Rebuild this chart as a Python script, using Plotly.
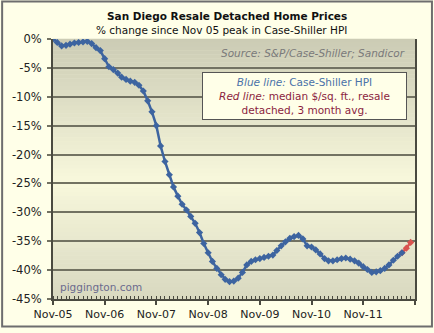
import plotly.graph_objects as go
import pandas as pd

# ---- data ----
months = pd.date_range("2005-11-01", periods=84, freq="MS")
cs_hpi = [0.0, -0.6, -1.2, -1.1, -0.9, -0.7, -0.6, -0.5, -0.4, -0.8, -1.5, -2.0,
          -3.4, -4.8, -5.3, -5.9, -6.6, -7.0, -7.3, -7.5, -8.0, -9.0, -10.7, -12.6,
          -15.0, -18.5, -21.2, -23.5, -25.6, -27.2, -28.6, -29.6, -30.7, -31.9, -33.5, -35.4,
          -37.0, -38.5, -39.7, -40.8, -41.6, -42.0, -41.9, -41.4, -40.4, -39.1, -38.5, -38.2,
          -38.0, -37.8, -37.6, -37.4, -36.6, -35.8, -35.1, -34.5, -34.2, -34.0, -34.6, -35.8,
          -36.0, -36.5, -37.2, -38.0, -38.4, -38.4, -38.2, -38.0, -37.9, -38.1, -38.4, -38.8,
          -39.4, -39.9, -40.4, -40.3, -40.1, -39.7, -39.1, -38.3, -37.6, -37.0]
red_months = months[81:84]
red_vals = [-37.0, -36.2, -35.2]

y_ticks = [0, -5, -10, -15, -20, -25, -30, -35, -40, -45]
y_ticktext = ["0%", "-5%", "-10%", "-15%", "-20%", "-25%", "-30%", "-35%", "-40%", "-45%"]

# ---- layout geometry (pixels) ----
W, H = 434, 333
L, R, T, B = 52, 415, 39, 303
PW, PH = R - L, B - T

def px(x):
    return (x - L) / PW

def py(y):
    return (B - y) / PH

FONT = "DejaVu Sans"
BLUE = "#3D64A0"

fig = go.Figure()
fig.add_trace(go.Scatter(x=red_months, y=red_vals, mode="lines+markers",
                         line=dict(color="#D9534F", width=2.5),
                         marker=dict(symbol="diamond", size=5.5, color="#D9534F"),
                         showlegend=False))
fig.add_trace(go.Scatter(x=months[:82], y=cs_hpi, mode="lines+markers",
                         line=dict(color=BLUE, width=2.5),
                         marker=dict(symbol="diamond", size=5.5, color=BLUE),
                         showlegend=False))

# gradient background bands
def lerp(c1, c2, t):
    return tuple(round(a + (b - a) * t) for a, b in zip(c1, c2))

top_c = (0xCB, 0xCB, 0xB4)
mid_c = (0xF8, 0xF8, 0xDC)
bot_c = (0xD8, 0xD8, 0xC0)
N = 66
shapes = []
for i in range(N):
    f = (i + 0.5) / N  # 0 top -> 1 bottom
    if f < 0.55:
        c = lerp(top_c, mid_c, f / 0.55)
    else:
        c = lerp(mid_c, bot_c, (f - 0.55) / 0.45)
    shapes.append(dict(type="rect", xref="paper", yref="paper",
                       x0=0, x1=1, y0=1 - (i + 1) / N, y1=1 - i / N + 0.001,
                       fillcolor="rgb(%d,%d,%d)" % c, line=dict(width=0),
                       layer="below"))
# outer frame
shapes.append(dict(type="rect", xref="paper", yref="paper",
                   x0=px(1), x1=px(432), y0=py(331), y1=py(1),
                   line=dict(color="#6E6E6E", width=2), layer="above"))

annotations = [
    dict(text="<b>San Diego Resale Detached Home Prices</b>", x=px(226), y=py(16),
         xref="paper", yref="paper", showarrow=False, xanchor="center", yanchor="middle",
         font=dict(family=FONT, size=10.5, color="#111111")),
    dict(text="% change since Nov 05 peak in Case-Shiller HPI", x=px(221), y=py(30),
         xref="paper", yref="paper", showarrow=False, xanchor="center", yanchor="middle",
         font=dict(family=FONT, size=10.5, color="#111111")),
    dict(text="<i>Source: S&P/Case-Shiller; Sandicor</i>", x=px(407), y=py(53),
         xref="paper", yref="paper", showarrow=False, xanchor="right", yanchor="middle",
         font=dict(family=FONT, size=10.5, color="#7A7A7A")),
    dict(text=("<span style='color:#4A72A8'><i>Blue line:</i> Case-Shiller HPI</span><br>"
               "<span style='color:#8B1E3F'><i>Red line:</i> median $/sq. ft., resale</span><br>"
               "<span style='color:#8B1E3F'>detached, 3 month avg.</span>"),
         x=px(304.5), y=py(97), xref="paper", yref="paper", showarrow=False,
         xanchor="center", yanchor="middle", align="center",
         width=201, height=44, bgcolor="#FFFFE8", bordercolor="#555555", borderwidth=1,
         borderpad=1, font=dict(family=FONT, size=10.5)),
    dict(text="piggington.com", x=px(57), y=py(291), xref="paper", yref="paper",
         showarrow=False, xanchor="left", yanchor="middle",
         font=dict(family=FONT, size=10.5, color="#6B6B8E")),
]

fig.update_layout(
    width=W, height=H,
    margin=dict(l=L, r=W - R, t=T, b=H - B, pad=0),
    paper_bgcolor="#FFFFE8", plot_bgcolor="#F0F0D8",
    shapes=shapes, annotations=annotations, showlegend=False,
    xaxis=dict(type="date", range=["2005-11-01", "2012-11-01"],
               tick0="2005-11-01", dtick="M12", tickformat="%b-%y",
               showgrid=False, zeroline=False, showline=True, linecolor="#4A4A40", linewidth=2,
               ticks="outside", ticklen=4, tickwidth=1.5, tickcolor="#4A4A40",
               minor=dict(dtick="M1", ticks="inside", ticklen=3, tickwidth=1, tickcolor="#4A4A40",
                          showgrid=False),
               tickfont=dict(family=FONT, size=11, color="#222222")),
    yaxis=dict(range=[-45, 0], tickvals=y_ticks, ticktext=y_ticktext,
               showgrid=True, gridcolor="#727262", gridwidth=2, zeroline=False,
               showline=True, linecolor="#4A4A40", linewidth=2, mirror=True,
               ticks="outside", ticklen=4, tickwidth=2, tickcolor="#727262",
               tickfont=dict(family=FONT, size=11.5, color="#222222"), ticklabelstandoff=3),
)

fig.write_html("out.html")
